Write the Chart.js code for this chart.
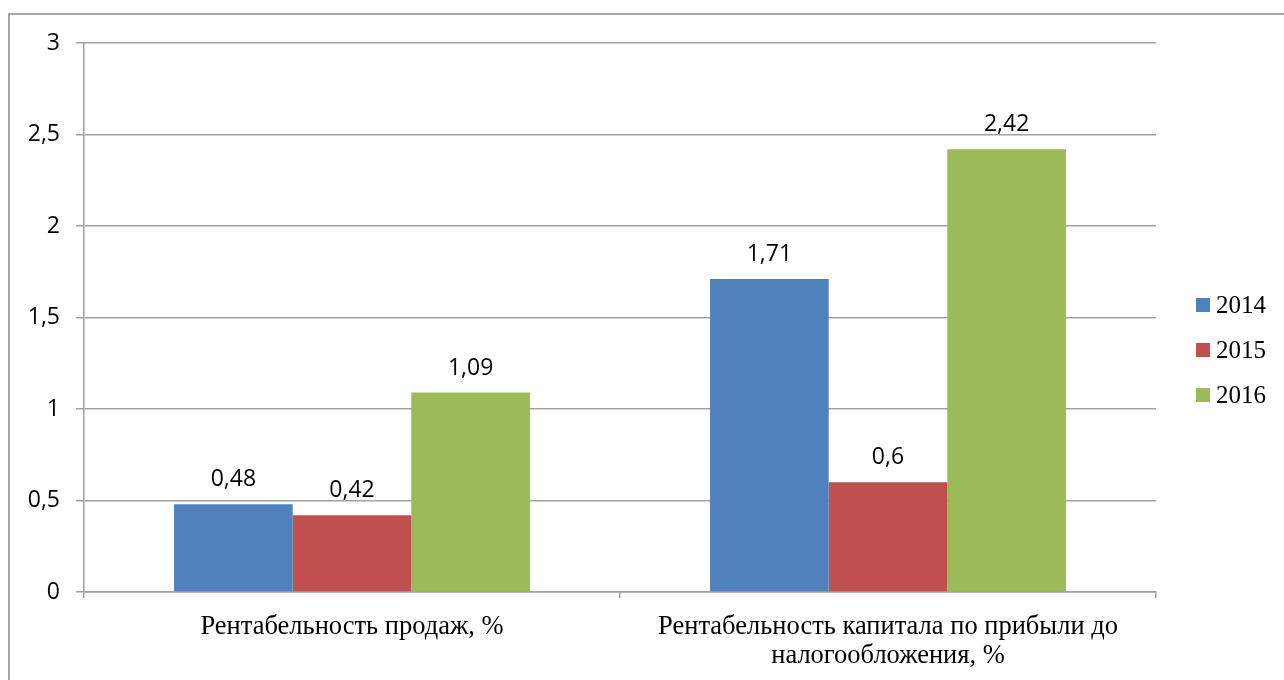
<!DOCTYPE html>
<html lang="ru">
<head>
<meta charset="utf-8">
<title>Рентабельность, 2014–2016</title>
<script src="https://cdn.jsdelivr.net/npm/chart.js@4/dist/chart.umd.min.js"></script>
<style>
  html, body { margin: 0; padding: 0; background: #ffffff; }
  #wrap { position: relative; width: 1284px; height: 680px; }
  canvas { display: block; }
</style>
</head>
<body>
<div id="wrap"><canvas id="chart" width="1284" height="680"></canvas></div>
<script>
// Categories (multi-line labels for the axis)
const categories = [
  'Рентабельность продаж, %',
  ['Рентабельность капитала по прибыли до', 'налогообложения, %']
];

// Series
const years = ['2014', '2015', '2016'];
const values2014 = [0.48, 1.71];
const values2015 = [0.42, 0.6];
const values2016 = [1.09, 2.42];

// Value axis
const yMin = 0;
const yMax = 3;
const yStep = 0.5;

const colors = ['#4F81BD', '#C0504D', '#9BBB59'];
const lineGray = '#a0a0a0';
const sansFont = "'Open Sans', 'Noto Sans', sans-serif";
const serifFont = "'Liberation Serif', 'Times New Roman', serif";

const fmt = v => String(v).replace('.', ',');

// Frame around the whole figure (open on the right and bottom edges)
const framePlugin = {
  id: 'frame',
  beforeDraw(chart) {
    const ctx = chart.ctx;
    ctx.save();
    ctx.fillStyle = '#ffffff';
    ctx.fillRect(0, 0, chart.width, chart.height);
    ctx.strokeStyle = '#8a8a8a';
    ctx.lineWidth = 1.5;
    ctx.beginPath();
    ctx.moveTo(9, chart.height);
    ctx.lineTo(9, 14);
    ctx.lineTo(chart.width, 14);
    ctx.stroke();
    ctx.restore();
  }
};

// Value labels above each bar
const valueLabels = {
  id: 'valueLabels',
  afterDatasetsDraw(chart) {
    const ctx = chart.ctx;
    ctx.save();
    ctx.font = '23px ' + sansFont;
    ctx.fillStyle = '#000000';
    ctx.textAlign = 'center';
    ctx.textBaseline = 'alphabetic';
    chart.data.datasets.forEach((ds, i) => {
      const meta = chart.getDatasetMeta(i);
      meta.data.forEach((bar, j) => {
        ctx.fillText(fmt(ds.data[j]), bar.x, bar.y - 18);
      });
    });
    ctx.restore();
  }
};

// Legend on the right side
const sideLegend = {
  id: 'sideLegend',
  afterDraw(chart) {
    const ctx = chart.ctx;
    ctx.save();
    ctx.font = '25px ' + serifFont;
    ctx.textBaseline = 'middle';
    ctx.textAlign = 'left';
    const x = 1196, y0 = 305, step = 45, box = 14;
    chart.data.datasets.forEach((ds, i) => {
      const cy = y0 + i * step;
      ctx.fillStyle = ds.backgroundColor;
      ctx.fillRect(x, cy - box / 2, box, box);
      ctx.fillStyle = '#000000';
      ctx.fillText(ds.label, x + box + 6, cy + 1);
    });
    ctx.restore();
  }
};

new Chart(document.getElementById('chart'), {
  type: 'bar',
  data: {
    labels: categories,
    datasets: [
      { label: years[0], data: values2014, backgroundColor: colors[0] },
      { label: years[1], data: values2015, backgroundColor: colors[1] },
      { label: years[2], data: values2016, backgroundColor: colors[2] }
    ]
  },
  options: {
    responsive: false,
    animation: false,
    devicePixelRatio: 1,
    layout: { padding: { top: 43, right: 128, left: 9, bottom: 0 } },
    datasets: {
      bar: { categoryPercentage: 0.664, barPercentage: 1.0, borderWidth: 0 }
    },
    plugins: {
      legend: { display: false },
      tooltip: { enabled: false }
    },
    scales: {
      x: {
        grid: {
          display: true,
          drawOnChartArea: false,
          drawTicks: true,
          tickLength: 6,
          color: lineGray,
          lineWidth: 1.5,
          offset: true
        },
        border: { display: true, color: lineGray, width: 1.5 },
        ticks: {
          color: '#000000',
          font: { family: serifFont, size: 26.5, lineHeight: 1.1 },
          padding: 14,
          maxRotation: 0,
          autoSkip: false
        },
        afterFit(scale) { scale.height = 88; }
      },
      y: {
        min: yMin,
        max: yMax,
        ticks: {
          stepSize: yStep,
          color: '#000000',
          font: { family: sansFont, size: 23 },
          padding: 16,
          callback: v => fmt(v)
        },
        grid: {
          color: lineGray,
          lineWidth: 1.5,
          drawTicks: true,
          tickLength: 8
        },
        border: { display: true, color: lineGray, width: 1.5 },
        afterFit(scale) { scale.width = 75; }
      }
    }
  },
  plugins: [framePlugin, valueLabels, sideLegend]
});
</script>
</body>
</html>
